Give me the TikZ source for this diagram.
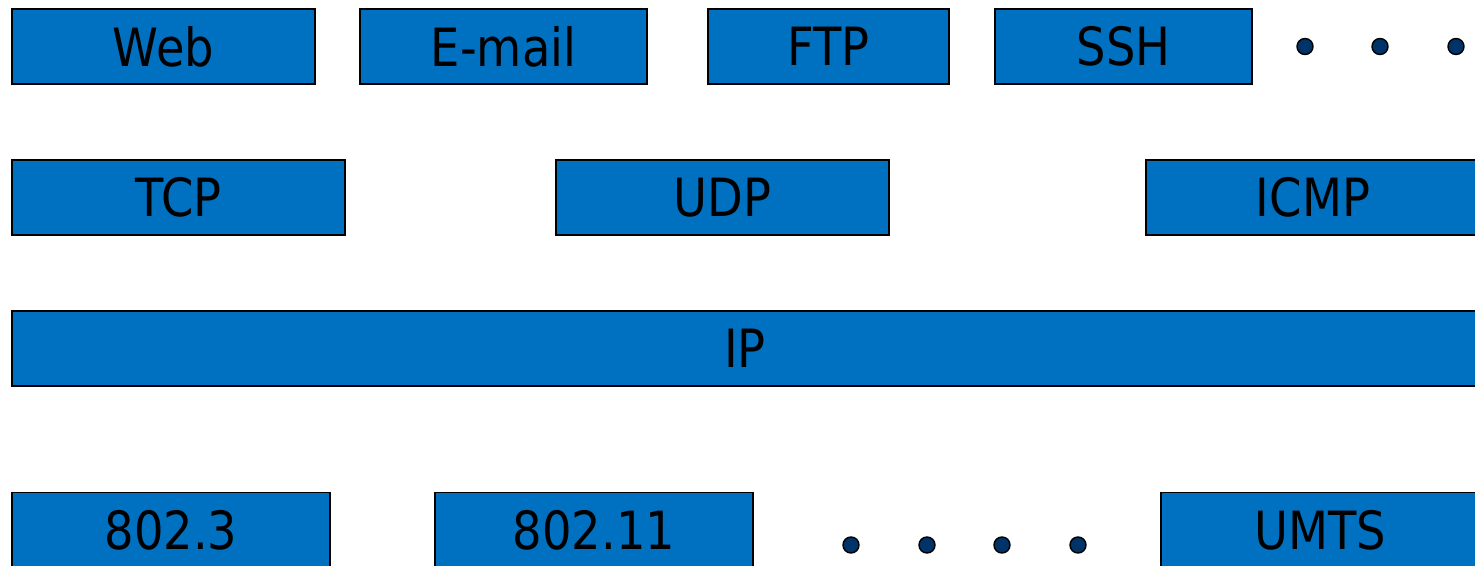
\documentclass[tikz,border=0pt]{standalone}
\usepackage{fontspec}
\setmainfont{DejaVu Sans}[FakeStretch=0.88]
\definecolor{layerblue}{HTML}{0070C0}
\definecolor{dotnavy}{HTML}{003468}
\tikzset{
  layer/.style={draw=black, line width=0.8pt, fill=layerblue, inner sep=0pt,
    minimum height=1.5cm, font=\fontsize{30}{36}\selectfont},
  gap/.style={circle, draw=black, line width=0.8pt, fill=dotnavy, inner sep=0pt,
    minimum size=0.32cm}
}

\begin{document}
\begin{tikzpicture}[x=0.02cm,y=-0.02cm]
				%%%%% START %%%%%
				\def\rowa{46.5}
				\def\rowb{197.5}
				\def\rowc{348.5}
				\def\rowd{530}

				\clip (0,0) rectangle (1475,565);
				\useasboundingbox (0,0) rectangle (1475,565);

				% applications
				\node[layer, minimum width=6.06cm] (web) at (163.5,\rowa) {Web};
				\node[layer, minimum width=5.74cm] (mail) at (503.5,\rowa) {E-mail};
				\node[layer, minimum width=4.82cm] (ftp) at (828.5,\rowa) {FTP};
				\node[layer, minimum width=5.14cm] (ssh) at (1123.5,\rowa) {SSH};
				\foreach \x/\n in {1305/1,1380/2,1456/3}
					\node[gap] (appdot\n) at (\x,\rowa) {};

				% transport
				\node[layer, minimum width=6.66cm] (tcp) at (178.5,\rowb) {TCP};
				\node[layer, minimum width=6.66cm] (udp) at (722.5,\rowb) {UDP};
				\node[layer, minimum width=6.68cm] (icmp) at (1313,\rowb) {ICMP};

				% network
				\node[layer, minimum width=29.32cm] (ip) at (745,\rowc) {IP};

				% link
				\node[layer, minimum width=6.36cm] (eth) at (171,\rowd) {802.3};
				\node[layer, minimum width=6.36cm] (wlan) at (594,\rowd) {802.11};
				\foreach \x/\n in {851/1,927/2,1002/3,1078/4}
					\node[gap] (linkdot\n) at (\x,545) {};
				\node[layer, minimum width=6.36cm] (umts) at (1320,\rowd) {UMTS};
				%%%%% START %%%%%
\end{tikzpicture}
\end{document}
